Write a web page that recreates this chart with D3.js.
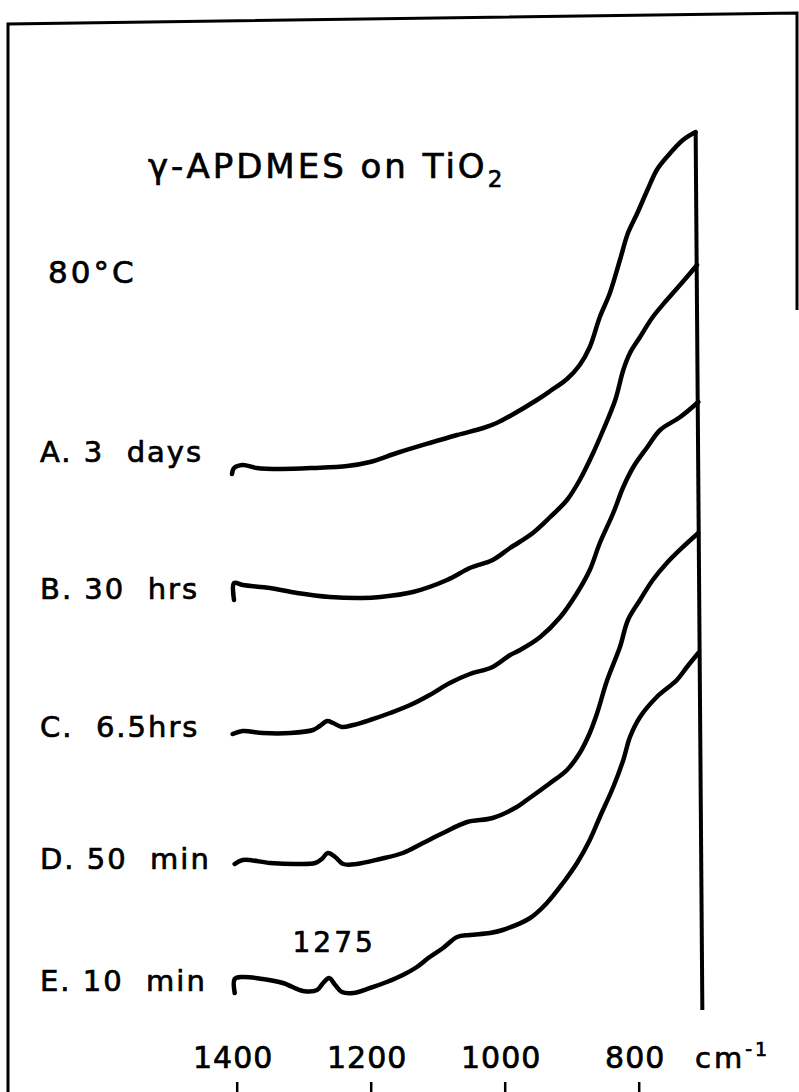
<!DOCTYPE html>
<html>
<head>
<meta charset="utf-8">
<script src="https://cdn.jsdelivr.net/npm/d3@7"></script>
<style>
  body { margin: 0; background: #fff; }
  text { font-family: "DejaVu Sans", sans-serif; fill: #000; stroke: #000; stroke-width: 0.7px; }
</style>
</head>
<body>
<div id="chart"></div>
<script>
var svgWidth = 799;
var svgHeight = 1092;

// wavenumber ticks (cm-1)
var tickValues = [1400, 1200, 1000, 800];

var seriesLabels = ["A. 3  days", "B. 30  hrs", "C.  6.5hrs", "D. 50  min", "E. 10  min"];

// [wavenumber, absorbance (offset)]
var spectrumA = [
  [1407,5.36],[1404,5.42],[1391,5.45],[1370,5.42],[1335,5.41],[1286,5.42],[1235,5.44],
  [1201,5.48],[1161,5.57],[1112,5.67],[1071,5.75],[1032,5.82],[1012,5.87],[992,5.94],
  [952,6.10],[932,6.19],[907,6.31],[888,6.45],[873,6.63],[858,6.93],[843,7.17],
  [828,7.50],[816,7.77],[802,7.97],[787,8.20],[773,8.40],[758,8.53],[734,8.70],[715,8.78]
];
var spectrumB = [
  [1404,4.10],[1404,4.27],[1391,4.25],[1350,4.22],[1310,4.17],[1261,4.13],[1212,4.12],
  [1186,4.13],[1137,4.18],[1086,4.30],[1052,4.42],[1018,4.50],[992,4.62],[958,4.77],
  [932,4.93],[907,5.10],[888,5.30],[868,5.57],[853,5.80],[835,6.10],[823,6.40],
  [813,6.57],[798,6.73],[779,6.93],[758,7.10],[728,7.33],[713,7.45]
];
var spectrumC = [
  [1406,2.76],[1391,2.79],[1361,2.77],[1320,2.77],[1286,2.80],[1276,2.84],[1265,2.89],
  [1256,2.87],[1243,2.83],[1226,2.85],[1201,2.90],[1171,2.97],[1141,3.05],[1112,3.15],
  [1082,3.27],[1052,3.36],[1018,3.43],[992,3.55],[977,3.60],[947,3.73],[917,3.93],
  [892,4.17],[873,4.40],[858,4.67],[838,4.97],[823,5.23],[808,5.43],[787,5.63],
  [768,5.80],[738,5.93],[711,6.08]
];
var spectrumD = [
  [1403,1.46],[1391,1.50],[1350,1.47],[1310,1.46],[1283,1.47],[1273,1.51],[1264,1.57],
  [1253,1.53],[1241,1.46],[1221,1.46],[1186,1.51],[1152,1.57],[1122,1.67],[1092,1.77],
  [1056,1.88],[1018,1.92],[982,2.03],[967,2.10],[932,2.27],[907,2.40],[888,2.57],
  [873,2.77],[862,2.97],[847,3.30],[828,3.63],[816,3.90],[798,4.10],[779,4.30],
  [758,4.47],[734,4.63],[711,4.77]
];
var spectrumE = [
  [1403,0.17],[1403,0.31],[1391,0.33],[1361,0.31],[1331,0.27],[1301,0.19],[1280,0.20],
  [1271,0.27],[1262,0.32],[1253,0.25],[1243,0.18],[1226,0.17],[1201,0.22],[1176,0.28],
  [1152,0.35],[1131,0.43],[1112,0.53],[1092,0.62],[1071,0.73],[1052,0.75],[1022,0.77],
  [1003,0.80],[962,0.92],[937,1.07],[913,1.27],[892,1.47],[873,1.70],[858,1.93],
  [838,2.23],[823,2.50],[813,2.73],[798,2.93],[773,3.13],[743,3.30],[728,3.43],[711,3.57]
];

// the vertical line the spectra end on
var endLine = [[715, 8.78], [705, 0]];

var peakLabel = "1275";
var peakPosition = 1262;

var spectra = [spectrumA, spectrumB, spectrumC, spectrumD, spectrumE];

var svg = d3.select("#chart")
  .append("svg")
  .attr("width", svgWidth)
  .attr("height", svgHeight);

var xScale = d3.scaleLinear()
  .domain([1400, 800])
  .range([236.7, 638.7]);

var yScale = d3.scaleLinear()
  .domain([0, 9])
  .range([1010, 110]);

// frame (scanned page border)
svg.append("path")
  .attr("d", "M8,1092 L8,24 L797,13 L797,310")
  .attr("fill", "none")
  .attr("stroke", "#000")
  .attr("stroke-width", 3);

var line = d3.line()
  .x(d => xScale(d[0]))
  .y(d => yScale(d[1]))
  .curve(d3.curveCatmullRom.alpha(0.5));

svg.selectAll(".spectrum")
  .data(spectra)
  .enter()
  .append("path")
  .attr("class", "spectrum")
  .attr("d", line)
  .attr("fill", "none")
  .attr("stroke", "#000")
  .attr("stroke-width", 4.5)
  .attr("stroke-linejoin", "round")
  .attr("stroke-linecap", "round");

svg.append("path")
  .attr("d", d3.line().x(d => xScale(d[0])).y(d => yScale(d[1]))(endLine))
  .attr("stroke", "#000")
  .attr("stroke-width", 4);

// labels
var labelBaselines = [462, 599, 737, 869, 991];
svg.selectAll(".slabel")
  .data(seriesLabels)
  .enter()
  .append("text")
  .attr("class", "slabel")
  .attr("x", 40)
  .attr("y", (d, i) => labelBaselines[i])
  .attr("font-size", 29)
  .attr("letter-spacing", 2)
  .style("white-space", "pre")
  .text(d => d);

var title = svg.append("text")
  .attr("x", 148)
  .attr("y", 178)
  .attr("font-size", 34)
  .attr("letter-spacing", 3);
title.append("tspan").text("\u03b3-APDMES on TiO");
title.append("tspan").attr("font-size", 23).attr("dy", 9).text("2");

svg.append("text")
  .attr("x", 48)
  .attr("y", 283)
  .attr("font-size", 31)
  .attr("letter-spacing", 3)
  .text("80\u00b0C");

svg.append("text")
  .attr("x", xScale(peakPosition) + 5)
  .attr("y", 952)
  .attr("text-anchor", "middle")
  .attr("font-size", 28)
  .attr("letter-spacing", 3)
  .text(peakLabel);

// wavenumber axis: labels above short ticks at the bottom edge
var axis = d3.axisTop(xScale)
  .tickValues(tickValues)
  .tickSize(10)
  .tickPadding(14)
  .tickFormat(d3.format("d"));

var axisGroup = svg.append("g")
  .attr("transform", `translate(0, ${svgHeight})`)
  .call(axis);

axisGroup.select(".domain").remove();
axisGroup.selectAll(".tick line").attr("stroke", "#000").attr("stroke-width", 2.5);
axisGroup.selectAll(".tick text")
  .attr("font-family", "DejaVu Sans, sans-serif")
  .attr("font-size", 30)
  .attr("letter-spacing", 1)
  .attr("dx", -4)
  .attr("fill", "#000");

var unit = svg.append("text")
  .attr("x", 695)
  .attr("y", 1068)
  .attr("font-size", 29)
  .attr("letter-spacing", 3);
unit.append("tspan").text("cm");
unit.append("tspan").attr("font-size", 19).attr("dy", -12).text("-1");
</script>
</body>
</html>
